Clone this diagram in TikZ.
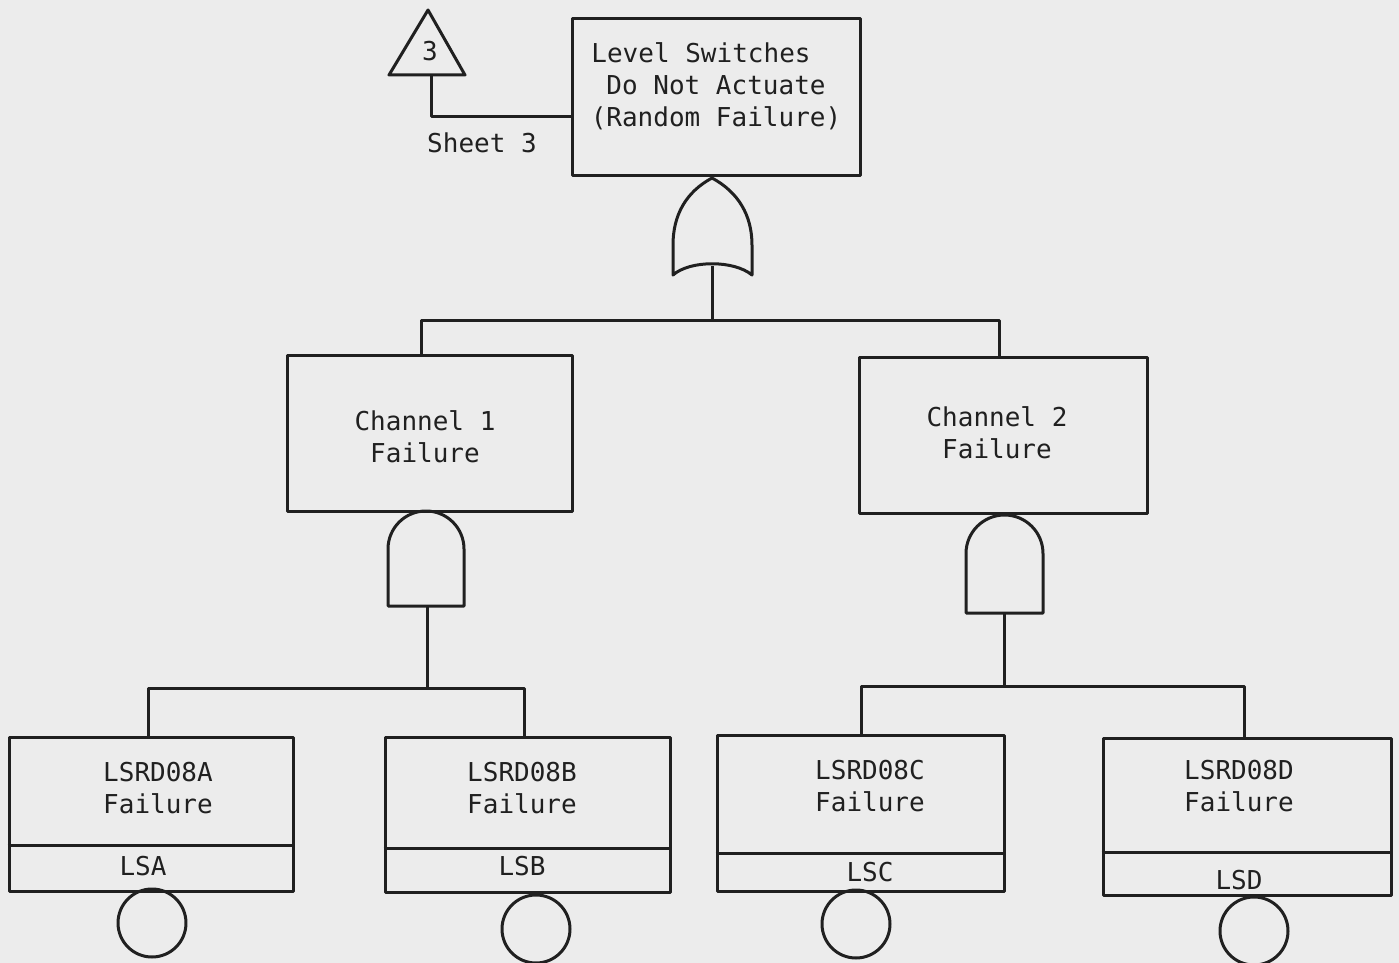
\documentclass[tikz,border=0pt]{standalone}
\usepackage{fontspec}
\setmonofont{DejaVu Sans Mono}
\definecolor{paper}{RGB}{236,236,236}
\definecolor{ink}{RGB}{32,32,32}
\tikzset{
  x=0.5pt, y=-0.5pt,
  txt/.style={font=\ttfamily\fontsize{13}{16}\selectfont, text=ink, align=center, inner sep=0pt},
  line/.style={draw=ink, line width=1.5pt, line join=round},
  box/.style={line, rectangle, inner sep=0pt},
  basic/.style={line, circle, inner sep=0pt, minimum size=34pt},
}
\begin{document}
\begin{tikzpicture}
% canvas
\fill[paper] (0,0) rectangle (1399,963);
\useasboundingbox (0,0) rectangle (1399,963);

% ---------- top event ----------
\node[box, minimum width=144pt, minimum height=78.5pt] (top) at (716,97.5) {};
\node[txt] (topt) at (716,86) {\hspace*{-15pt}Level Switches\\Do Not Actuate\\(Random Failure)};

% transfer triangle to sheet 3
\coordinate (triApex) at (428,10);
\coordinate (triBase) at (431,75);
\draw[line] (triApex) -- (465,75) -- (389,75) -- cycle;
\node[txt] (trino) at (430,51) {3};
\node[txt] (sheet) at (482,143) {Sheet 3};
\draw[line] (triBase) |- (top.west |- 0,117);

% ---------- OR gate ----------
\coordinate (orTop) at (712,178);
\coordinate (orOut) at (712,266);
\draw[line] (orTop) .. controls (686,192) and (673,215) .. (673,245) -- (673,275)
  .. controls (690,260) and (734,260) .. (752,275) -- (752,245)
  .. controls (752,215) and (738,192) .. (orTop) -- cycle;
\coordinate (bus1) at (712,320);
\draw[line] (orOut) -- (bus1);

% ---------- channel events ----------
\node[box, minimum width=142.5pt, minimum height=78pt] (ch1) at (429.5,433) {};
\node[txt] (ch1t) at (425,437) {Channel 1\\Failure};
\node[box, minimum width=144pt, minimum height=78pt] (ch2) at (1003,435) {};
\node[txt] (ch2t) at (997,433) {Channel 2\\Failure};

\draw[line] (ch1.north -| 421,0) |- (bus1) -| (ch2.north -| 999,0);

% ---------- AND gates ----------
\coordinate (and1Out) at (427,606);
\draw[line] (388,606) -- (388,549) arc (180:360:38) -- (464,606) -- cycle;
\coordinate (and2Out) at (1004,613);
\draw[line] (966,613) -- (966,553.5) arc (180:360:38.5) -- (1043,613) -- cycle;

\coordinate (bus2) at (427,688);
\coordinate (bus3) at (1004,686);
\draw[line] (and1Out) -- (bus2);
\draw[line] (and2Out) -- (bus3);

% ---------- basic events ----------
\node[box, minimum width=142pt, minimum height=77pt] (a) at (151,814) {};
\draw[line] (a.west |- 0,845) -- (a.east |- 0,845);
\node[txt] (at) at (158,788) {LSRD08A\\Failure};
\node[txt] (al) at (143,866) {LSA};
\node[basic] (ca) at (152,923) {};

\node[box, minimum width=142.5pt, minimum height=77.5pt] (b) at (527.5,814.5) {};
\draw[line] (b.west |- 0,848) -- (b.east |- 0,848);
\node[txt] (bt) at (522,788) {LSRD08B\\Failure};
\node[txt] (bl) at (522,866) {LSB};
\node[basic] (cb) at (536,929) {};

\node[box, minimum width=143.5pt, minimum height=78pt] (c) at (860.5,813) {};
\draw[line] (c.west |- 0,853) -- (c.east |- 0,853);
\node[txt] (ct) at (870,786) {LSRD08C\\Failure};
\node[txt] (cl) at (870,872) {LSC};
\node[basic] (cc) at (856,924) {};

\node[box, minimum width=144pt, minimum height=78.5pt] (d) at (1247,816.5) {};
\draw[line] (d.west |- 0,852) -- (d.east |- 0,852);
\node[txt] (dt) at (1239,786) {LSRD08D\\Failure};
\node[txt] (dl) at (1239,880) {LSD};
\node[basic] (cd) at (1254,931) {};

% ---------- buses to basic events ----------
\draw[line] (a.north -| 148,0) |- (bus2) -| (b.north -| 524,0);
\draw[line] (c.north -| 861,0) |- (bus3) -| (d.north -| 1244,0);
\end{tikzpicture}
\end{document}
